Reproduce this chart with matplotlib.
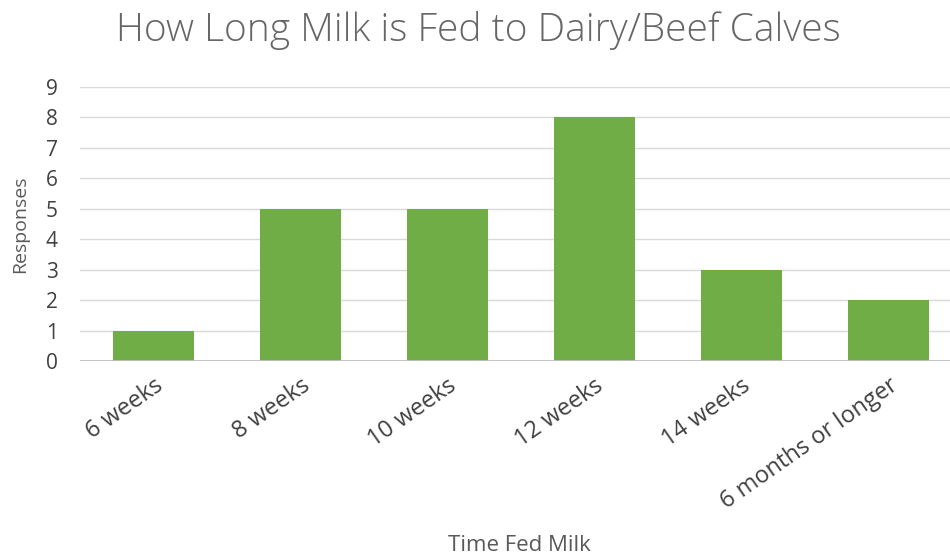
import matplotlib.pyplot as plt

categories = ["6 weeks", "8 weeks", "10 weeks", "12 weeks", "14 weeks", "6 months or longer"]
responses = [1, 5, 5, 8, 3, 2]
y_ticks = list(range(0, 10))

plt.rcParams['font.family'] = ['Open Sans', 'DejaVu Sans']

fig = plt.figure(figsize=(9.5, 5.58), dpi=100)
ax = fig.add_axes([80 / 950, 1 - 361 / 558, 870 / 950, 274 / 558])

x = range(len(categories))
ax.bar(x, responses, width=0.55, color="#70ad47", zorder=3)

ax.set_xlim(-0.5, -0.5 + 870 / 147)
ax.set_ylim(0, 9)
ax.set_yticks(y_ticks)
ax.yaxis.grid(True, color="#d9d9d9", linewidth=1, zorder=0)
ax.axhline(0, color="#bfbfbf", linewidth=2, zorder=4)

for s in ax.spines.values():
    s.set_visible(False)
ax.tick_params(axis='both', length=0, labelcolor="#404040")
ax.tick_params(axis='y', pad=16, labelsize=15)
ax.set_xticks(list(x))
ax.set_xticklabels(categories, rotation=35, ha='right', rotation_mode='anchor')
ax.tick_params(axis='x', pad=9, labelsize=17)

ax.set_ylabel("Responses", fontsize=14, color="#595959")
ax.yaxis.set_label_coords(-0.058, 0.5)
fig.text(0.547, 0.023, "Time Fed Milk", fontsize=16, color="#595959", ha='center', va='center')
fig.text(0.504, 0.946, "How Long Milk is Fed to Dairy/Beef Calves", fontsize=28,
         fontweight='light', color="#666666", ha='center', va='center')

fig.savefig("out.png", dpi=100)
